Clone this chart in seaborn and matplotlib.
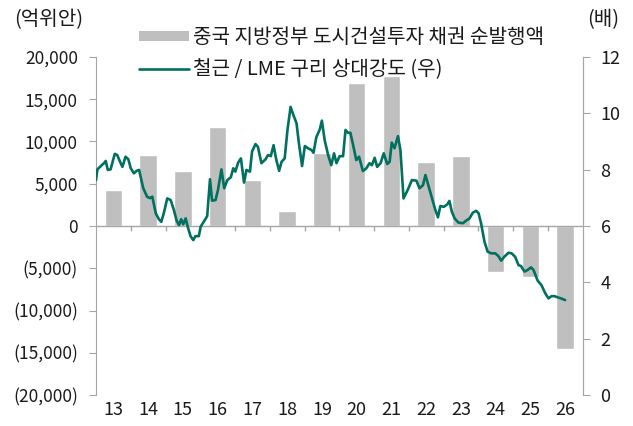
import matplotlib
matplotlib.use("Agg")
import matplotlib.pyplot as plt
import matplotlib.ticker as mticker
from matplotlib.patches import Patch
from matplotlib.lines import Line2D
import seaborn as sns
import pandas as pd
import numpy as np

# ---------------- data ----------------
years = ["13", "14", "15", "16", "17", "18", "19", "20", "21", "22", "23", "24", "25", "26"]
bond_net_issuance = [4300, 8400, 6500, 11750, 5500, 1800, 8600, 16900, 17700, 7600, 8300, -5400, -6000, -14600]

line_time = [2013.00, 2013.04, 2013.14, 2013.23, 2013.28, 2013.34, 2013.42, 2013.54, 2013.61, 2013.71,
             2013.76, 2013.85, 2013.93, 2014.00, 2014.09, 2014.17, 2014.24, 2014.36, 2014.47, 2014.55,
             2014.62, 2014.72, 2014.81, 2014.88, 2014.95, 2015.05, 2015.15, 2015.24, 2015.32, 2015.39,
             2015.45, 2015.51, 2015.58, 2015.64, 2015.72, 2015.80, 2015.86, 2015.96, 2016.01, 2016.10,
             2016.20, 2016.28, 2016.34, 2016.44, 2016.51, 2016.61, 2016.69, 2016.78, 2016.88, 2016.95,
             2017.01, 2017.09, 2017.17, 2017.26, 2017.33, 2017.43, 2017.49, 2017.59, 2017.66, 2017.76,
             2017.88, 2017.95, 2018.03, 2018.11, 2018.19, 2018.27, 2018.34, 2018.43, 2018.51, 2018.60,
             2018.68, 2018.77, 2018.84, 2018.93, 2019.01, 2019.10, 2019.20, 2019.26, 2019.34, 2019.44,
             2019.50, 2019.58, 2019.68, 2019.77, 2019.85, 2019.92, 2020.01, 2020.11, 2020.18, 2020.25,
             2020.32, 2020.39, 2020.49, 2020.57, 2020.68, 2020.78, 2020.87, 2020.94, 2021.02, 2021.09,
             2021.19, 2021.28, 2021.38, 2021.45, 2021.51, 2021.59, 2021.69, 2021.76, 2021.85, 2021.97,
             2022.09, 2022.22, 2022.31, 2022.41, 2022.48, 2022.58, 2022.68, 2022.76, 2022.84, 2022.91,
             2023.01, 2023.11, 2023.17, 2023.24, 2023.32, 2023.43, 2023.56, 2023.65, 2023.75, 2023.84,
             2023.94, 2024.01, 2024.08, 2024.18, 2024.27, 2024.37, 2024.49, 2024.58, 2024.66, 2024.75,
             2024.87, 2024.96, 2025.06, 2025.16, 2025.23, 2025.33, 2025.42, 2025.52, 2025.59, 2025.71,
             2025.82, 2025.92, 2026.02, 2026.11, 2026.19, 2026.28, 2026.38, 2026.50]
rebar_copper_ratio = [7.63, 8.01, 8.13, 8.23, 8.31, 7.99, 8.01, 8.56, 8.52, 8.23,
                      8.10, 8.46, 8.37, 8.05, 7.87, 7.96, 7.99, 7.34, 7.04, 6.99,
                      7.04, 6.45, 6.24, 6.15, 6.45, 6.98, 6.92, 6.57, 6.19, 6.03,
                      6.24, 6.06, 6.27, 5.97, 5.64, 5.50, 5.64, 5.64, 5.97, 6.15,
                      6.35, 7.66, 6.90, 6.92, 7.28, 8.01, 7.34, 7.63, 7.73, 8.05,
                      7.93, 8.25, 8.40, 7.54, 7.99, 7.93, 8.64, 8.91, 8.81, 8.23,
                      8.37, 8.52, 8.48, 8.87, 8.34, 7.96, 8.28, 8.40, 9.41, 10.23,
                      9.94, 9.65, 8.93, 8.13, 8.84, 8.76, 8.70, 8.60, 9.15, 9.43,
                      9.74, 9.05, 8.52, 8.16, 8.58, 8.23, 8.48, 8.48, 9.41, 9.31,
                      9.31, 8.93, 8.34, 8.46, 7.95, 8.05, 8.23, 8.16, 8.42, 8.10,
                      8.23, 8.58, 8.20, 8.28, 8.96, 8.76, 9.19, 8.70, 6.98, 7.28,
                      7.63, 7.61, 7.34, 7.45, 7.81, 7.37, 6.92, 6.59, 6.31, 6.71,
                      6.68, 6.77, 6.89, 6.51, 6.27, 6.12, 6.10, 6.19, 6.27, 6.47,
                      6.54, 6.45, 6.10, 5.44, 5.09, 5.03, 5.03, 4.93, 4.77, 4.91,
                      5.05, 5.03, 4.91, 4.61, 4.58, 4.38, 4.44, 4.53, 4.44, 4.06,
                      3.90, 3.63, 3.43, 3.51, 3.51, 3.47, 3.43, 3.37]

bar_label = "중국 지방정부 도시건설투자 채권 순발행액"
line_label = "철근 / LME 구리 상대강도 (우)"
left_unit = "(억위안)"
right_unit = "(배)"
left_ticks = [-20000, -15000, -10000, -5000, 0, 5000, 10000, 15000, 20000]
right_ticks = [0, 2, 4, 6, 8, 10, 12]

# ---------------- style ----------------
sns.set_style("white")
plt.rcParams["font.family"] = ["Noto Sans CJK KR", "DejaVu Sans"]

BAR_COLOR = "#BFBFBF"
LINE_COLOR = "#00705F"
AXIS_COLOR = "#A6A6A6"
TEXT_COLOR = "#1A1A1A"
FS_Y = 12.5
FS_X = 13
FS_BIG = 14.5

fig = plt.figure(figsize=(6.33, 4.26), dpi=100)
ax = fig.add_axes([96 / 633, 1 - 395 / 426, (582.5 - 96) / 633, (395 - 57) / 426])

bar_df = pd.DataFrame({"year": years, "value": bond_net_issuance})
sns.barplot(data=bar_df, x="year", y="value", order=years, color=BAR_COLOR,
            width=0.5, saturation=1, ax=ax, zorder=2)

ax.set_xlim(-0.5, len(years) - 0.5)
ax.set_ylim(-20000, 20000)
ax.set_yticks(left_ticks)


def paren_fmt(v, pos):
    if v < 0:
        return f"({abs(int(v)):,})"
    return f"{int(v):,}"


ax.yaxis.set_major_formatter(mticker.FuncFormatter(paren_fmt))
ax.set_xlabel("")
ax.set_ylabel("")

# zero line and category boundary ticks
ax.axhline(0, color=AXIS_COLOR, lw=1.0, zorder=3)
bounds = np.arange(0.5, len(years) - 1, 1.0)
ax.vlines(bounds, -650, 0, color=AXIS_COLOR, lw=1.0, zorder=3)

for s in ["top", "bottom"]:
    ax.spines[s].set_visible(False)
ax.spines["left"].set_color(AXIS_COLOR)
ax.spines["right"].set_color(AXIS_COLOR)
ax.tick_params(axis="y", direction="out", length=5, color=AXIS_COLOR,
               labelsize=FS_Y, labelcolor=TEXT_COLOR, pad=8)
ax.tick_params(axis="x", length=0, labelsize=FS_X, labelcolor=TEXT_COLOR, pad=4)

# secondary axis line
ax2 = ax.twinx()
line_df = pd.DataFrame({"x": np.array(line_time) - 2013.5, "ratio": rebar_copper_ratio})
sns.lineplot(data=line_df, x="x", y="ratio", ax=ax2, color=LINE_COLOR, lw=1.9,
             estimator=None, sort=False)
ax2.set_ylim(0, 12)
ax2.set_yticks(right_ticks)
ax2.set_xlim(-0.5, len(years) - 0.5)
ax2.set_xlabel("")
ax2.set_ylabel("")
for s in ["top", "bottom", "left"]:
    ax2.spines[s].set_visible(False)
ax2.spines["right"].set_color(AXIS_COLOR)
ax2.tick_params(axis="y", direction="out", length=5, color=AXIS_COLOR,
                labelsize=FS_X, labelcolor=TEXT_COLOR, pad=8)

# units
fig.text(14 / 633, 1 - 20 / 426, left_unit, fontsize=FS_BIG, color=TEXT_COLOR, va="center", ha="left")
fig.text(587 / 633, 1 - 20 / 426, right_unit, fontsize=FS_BIG, color=TEXT_COLOR, va="center", ha="left")

# legend
handles = [Patch(facecolor=BAR_COLOR, edgecolor="none"),
           Line2D([0], [0], color=LINE_COLOR, lw=1.9)]
fig.legend(handles, [bar_label, line_label], loc="upper left",
           bbox_to_anchor=(139 / 633, 1 - 27 / 426), frameon=False, fontsize=FS_BIG,
           handlelength=2.5, handleheight=0.35, handletextpad=0.2, labelspacing=0.55,
           borderpad=0, borderaxespad=0, labelcolor=TEXT_COLOR)

fig.savefig("out.png", dpi=100)
